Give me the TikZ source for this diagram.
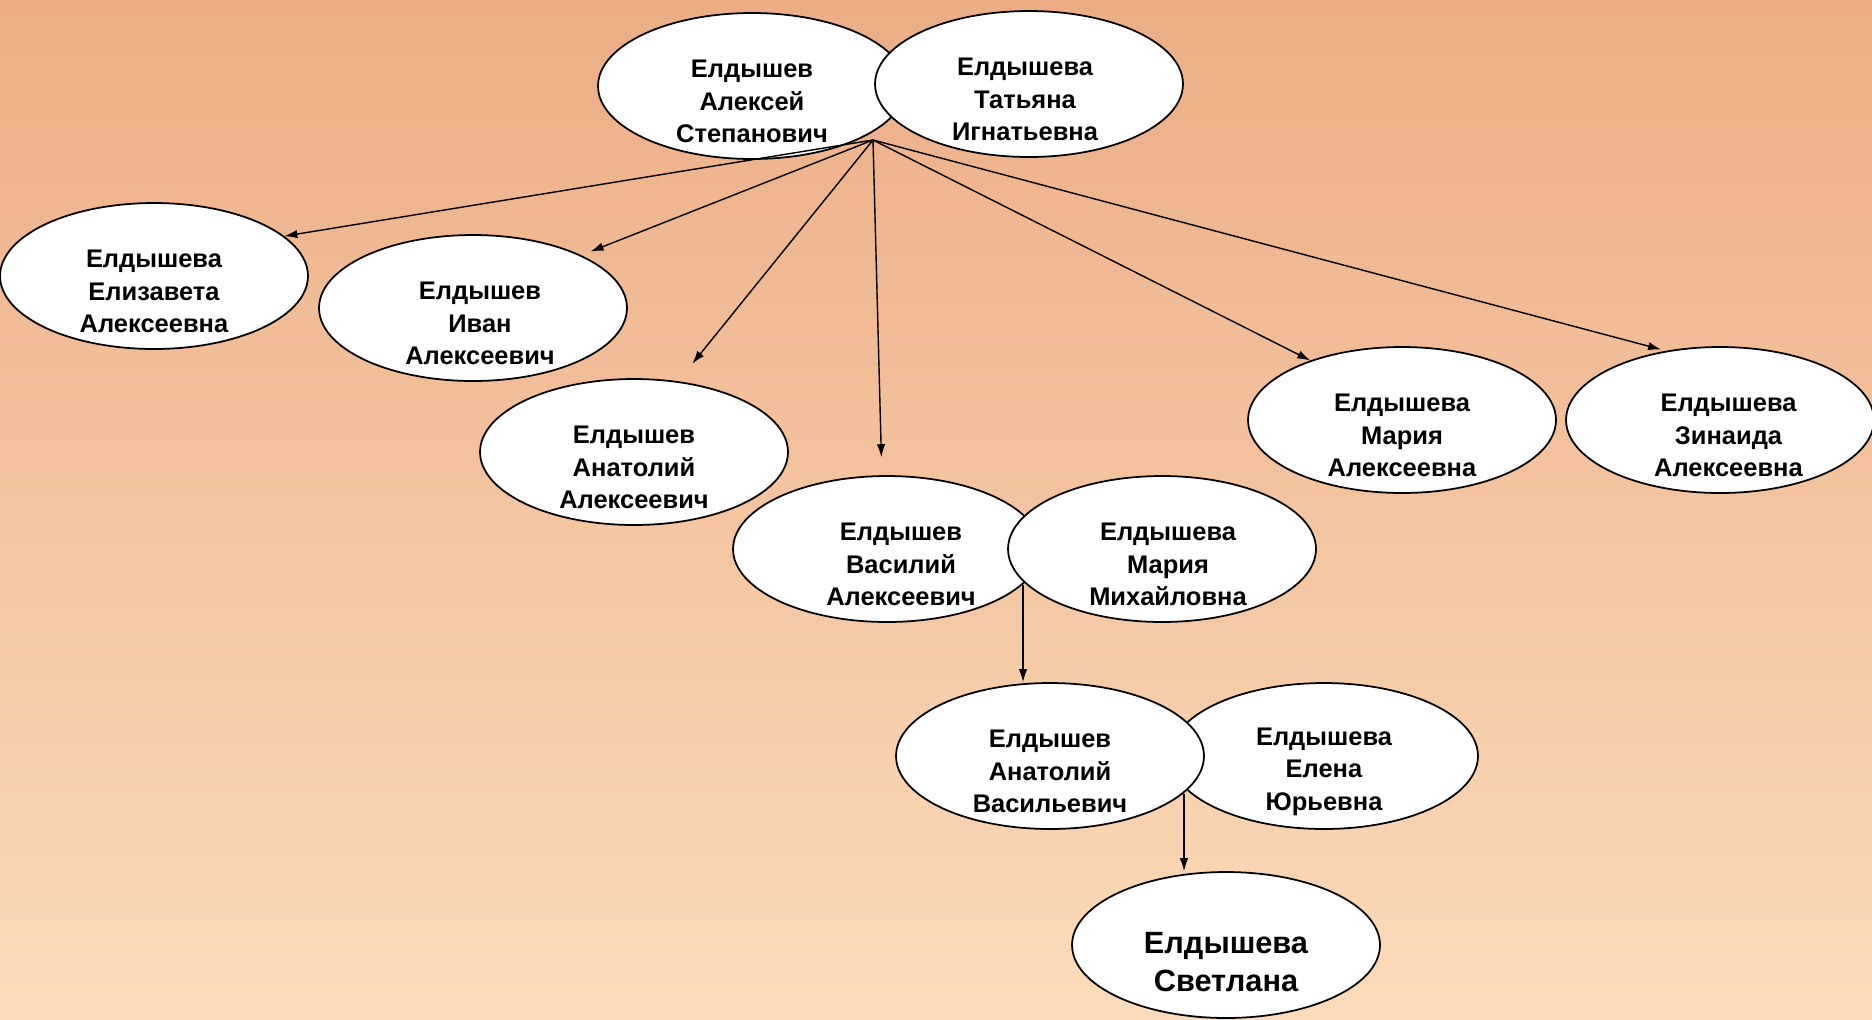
\documentclass[tikz,border=0pt]{standalone}
\usepackage{fontspec}
\setmainfont{Liberation Sans}
\usetikzlibrary{shapes.geometric,arrows.meta}
\definecolor{bgtop}{RGB}{236,173,133}
\definecolor{bgbottom}{RGB}{251,219,186}

\begin{document}
\begin{tikzpicture}[x=0.02cm,y=-0.02cm,
    oval/.style={ellipse, draw, fill=white, line width=1pt, minimum width=6.16cm, minimum height=2.92cm, inner sep=0pt},
    who/.style={align=center, font=\bfseries\fontsize{14.5}{18.5}\selectfont, yshift=-0.31cm},
    bigwho/.style={align=center, font=\bfseries\fontsize{17.5}{21.6}\selectfont, yshift=-0.35cm},
    person/.style={oval, label={[who]center:#1}},
    child/.style={-{Latex[length=0.26cm,width=0.17cm]}, line width=0.8pt}]
    \shade[top color=bgtop, bottom color=bgbottom] (0,0) rectangle (1872,1019);
    \useasboundingbox (0,0) rectangle (1872,1019);
    \node[person={Елдышев\\Алексей\\Степанович}] (alexey) at (752,86) {};
    \node[oval, label={[who, xshift=-0.08cm]center:Елдышева\\Татьяна\\Игнатьевна}] (tatyana) at (1029,84) {};
    \node[person={Елдышева\\Елизавета\\Алексеевна}] (elizaveta) at (154,276) {};
    \node[oval, label={[who, xshift=0.14cm]center:Елдышев\\Иван\\Алексеевич}] (ivan) at (473,308) {};
    \node[person={Елдышев\\Анатолий\\Алексеевич}] (anatoly) at (634,452) {};
    \node[person={Елдышева\\Мария\\Алексеевна}] (mariaa) at (1402,420) {};
    \node[oval, label={[who, xshift=0.17cm]center:Елдышева\\Зинаида\\Алексеевна}] (zinaida) at (1720,420) {};
    \node[oval, label={[who, xshift=0.28cm]center:Елдышев\\Василий\\Алексеевич}] (vasily) at (887,549) {};
    \node[oval, label={[who, xshift=0.12cm]center:Елдышева\\Мария\\Михайловна}] (mariam) at (1162,549) {};
    \node[person={Елдышева\\Елена\\Юрьевна}] (elena) at (1324,756) {};
    \node[person={Елдышев\\Анатолий\\Васильевич}] (anatolyv) at (1050,756) {};
    \node[oval, label={[bigwho]center:Елдышева\\Светлана}] (svetlana) at (1226,945) {};
    \coordinate (top) at (873,140);
    \coordinate (j2) at (1023,585);
    \coordinate (j3) at (1184,794);
    \draw[child] (top) -- (elizaveta.17);
    \draw[child, shorten >=0.2cm] (top) -- (ivan.26);
    \draw[child, shorten >=0.45cm] (top) -- (anatoly.58);
    \draw[child, shorten >=0.36cm] (top) -- (vasily.94);
    \draw[child] (top) -- (mariaa.147);
    \draw[child, shorten >=0.1cm] (top) -- (zinaida.128);
    \draw[child] (j2) -- (j2 |- anatolyv.north);
    \draw[child] (j3) -- (j3 |- svetlana.north);
\end{tikzpicture}
\end{document}
